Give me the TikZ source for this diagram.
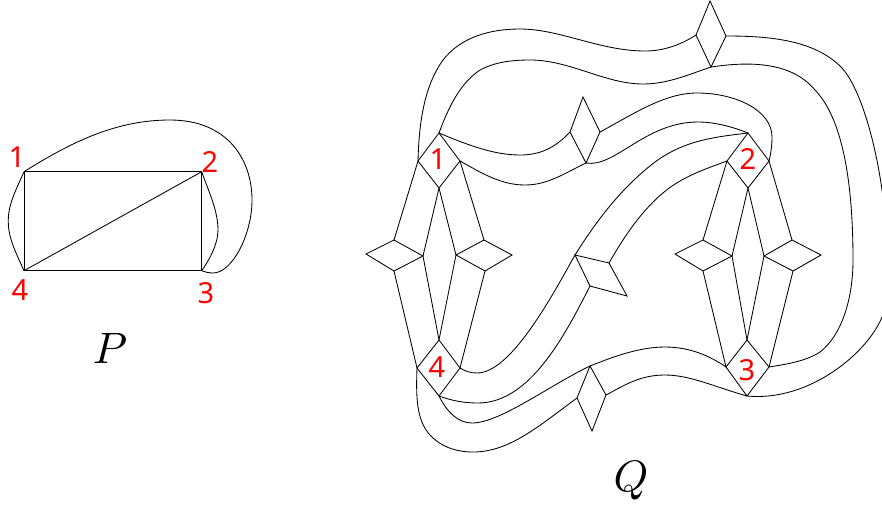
\documentclass[tikz,border=0pt]{standalone}
\usepackage{fontspec}
\newfontfamily\labfont{Noto Sans}
\newcommand{\kite}[5]{%
  \coordinate (#1t) at #2; \coordinate (#1l) at #3; \coordinate (#1b) at #4; \coordinate (#1r) at #5;
  \draw[edge] (#1t) -- (#1l) -- (#1b) -- (#1r) -- cycle;}
\tikzset{
  edge/.style={line width=0.85pt,black,line join=miter},
  num/.style={font=\labfont\fontsize{29}{29}\selectfont,text=red,inner sep=0pt},
  mathcap/.style={scale=4.4,inner sep=0pt}
}
\begin{document}
\begin{tikzpicture}[x=1pt,y=-1pt]
\clip (0,0) rectangle (882,509);
% ---- P
\coordinate (p1) at (24,171.7);
\coordinate (p2) at (201.7,171.7);
\coordinate (p3) at (201.7,270.7);
\coordinate (p4) at (24,270.7);
\draw[edge] (p1) -- (p2) -- (p3) -- (p4) -- cycle;
\draw[edge] (p2) -- (p4);
\draw[edge] (p1) .. controls (15,192) and (8,205) .. (8.3,221.7) .. controls (8,238) and (17,255) .. (p4);
\draw[edge] (p2) .. controls (208,190) and (218,210) .. (218,230) .. controls (218,245) and (208,262) .. (p3);
\draw[edge] (p1) .. controls (70,143) and (115,120) .. (170,120) .. controls (228,120) and (252,160) .. (252,200) .. controls (252,235) and (232,273) .. (213,273) .. controls (209,273) and (205,272) .. (p3);
\node[num] (lp1) at (17,157) {1};
\node[num] (lp2) at (210,162) {2};
\node[num] (lp3) at (206,293) {3};
\node[num] (lp4) at (20,290) {4};
\node[mathcap] (capP) at (110,348) {$P$};
% ---- Q diamonds
\kite{a}{(439,133)}{(418,161)}{(439,188)}{(460,161)}
\kite{b}{(748,133)}{(727,161)}{(748,188)}{(769,161)}
\kite{c}{(747,340)}{(726,367)}{(747,396)}{(769,367)}
\kite{d}{(439,340)}{(417,368)}{(439,396)}{(460,368)}
\kite{e}{(394,240)}{(366,254)}{(394,271)}{(423,256)}
\kite{f}{(484,240)}{(456,255)}{(485,271)}{(512,255)}
\kite{g}{(703,240)}{(675,254)}{(703,271)}{(732,256)}
\kite{h}{(792,240)}{(764,256)}{(793,271)}{(821,255)}
\kite{T}{(710,1)}{(696,35)}{(711,67)}{(726,36)}
\kite{M}{(583,97)}{(570,132)}{(586,163)}{(600,132)}
\kite{C}{(609,263)}{(575,255)}{(590,286)}{(627,296)}
\kite{B}{(590,366)}{(577,398)}{(592,431)}{(606,395)}
% ---- straight strands
\draw[edge] (al) -- (et) (ab) -- (er) (ab) -- (fl) (ar) -- (ft);
\draw[edge] (eb) -- (dl) (er) -- (dt) (fl) -- (dt) (fb) -- (dr);
\draw[edge] (bl) -- (gt) (bb) -- (gr) (bb) -- (hl) (br) -- (ht);
\draw[edge] (gb) -- (cl) (gr) -- (ct) (hl) -- (ct) (hb) -- (cr);
% ---- curved strands
\draw[edge] (al) .. controls (419,120) and (425,85) .. (443,60) .. controls (461,37) and (490,29) .. (520,29) .. controls (560,29) and (600,51) .. (645,51) .. controls (665,51) and (682,44) .. (Tl);
\draw[edge] (at) .. controls (450,103) and (462,82) .. (480,70) .. controls (495,62) and (512,60) .. (530,60) .. controls (570,60) and (605,84) .. (643,84) .. controls (668,84) and (690,74) .. (Tb);
\draw[edge] (Tr) .. controls (770,36) and (815,40) .. (842,68) .. controls (860,88) and (875,140) .. (882,190) .. controls (889,235) and (893,290) .. (882,317) .. controls (868,352) and (810,402) .. (cb);
\draw[edge] (Tb) .. controls (745,62) and (790,60) .. (815,90) .. controls (842,118) and (853,180) .. (853,260) .. controls (853,300) and (841,336) .. (820,352) .. controls (806,361) and (788,364) .. (cr);
\draw[edge] (at) .. controls (470,146) and (495,155) .. (520,155) .. controls (540,155) and (555,148) .. (Ml);
\draw[edge] (ar) .. controls (480,172) and (500,185) .. (525,185) .. controls (548,185) and (565,173) .. (Mb);
\draw[edge] (Mr) .. controls (635,113) and (665,93) .. (697,93) .. controls (735,93) and (772,110) .. (772,137) .. controls (772,145) and (771,153) .. (br);
\draw[edge] (Mb) .. controls (615,168) and (645,122) .. (698,122) .. controls (715,122) and (733,127) .. (bt);
\draw[edge] (Cl) .. controls (600,215) and (625,185) .. (655,162) .. controls (685,140) and (715,137) .. (bt);
\draw[edge] (Ct) .. controls (625,235) and (645,205) .. (672,186) .. controls (690,174) and (708,168) .. (bl);
\draw[edge] (Cl) .. controls (550,300) and (510,373) .. (477,373) .. controls (470,373) and (465,371) .. (dr);
\draw[edge] (Cb) .. controls (565,335) and (530,403) .. (478,403) .. controls (462,403) and (450,400) .. (db);
\draw[edge] (db) .. controls (447,412) and (458,423) .. (472,423) .. controls (500,423) and (550,385) .. (Bt);
\draw[edge] (dl) .. controls (416,395) and (416,420) .. (430,435) .. controls (440,446) and (455,452) .. (473,452) .. controls (510,452) and (540,425) .. (Bl);
\draw[edge] (Bt) .. controls (615,356) and (640,347) .. (665,347) .. controls (690,347) and (710,356) .. (cl);
\draw[edge] (Br) .. controls (625,385) and (640,375) .. (665,375) .. controls (690,375) and (715,387) .. (cb);
% ---- labels
\node[num] (n1) at (438,159) {1};
\node[num] (n2) at (748,159) {2};
\node[num] (n3) at (747,370) {3};
\node[num] (n4) at (437,367) {4};
\node[mathcap] (capQ) at (631,481) {$Q$};
\end{tikzpicture}
\end{document}
